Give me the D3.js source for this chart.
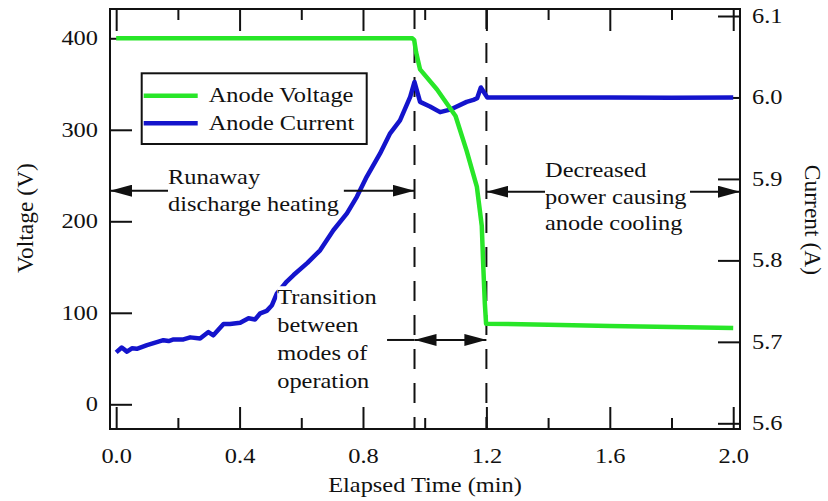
<!DOCTYPE html>
<html>
<head>
<meta charset="utf-8">
<script src="https://cdn.jsdelivr.net/npm/d3@7"></script>
<style>
  body { margin: 0; background: #fff; }
  svg text { font-family: "Liberation Serif", "Times New Roman", serif; fill: #111; }
</style>
</head>
<body>
<svg id="chart" width="828" height="501"></svg>
<script>
// Anode voltage (left axis) and anode current (right axis) vs elapsed time
var voltTime = [0, 0.96, 0.966, 0.972, 0.985, 1.04, 1.10, 1.136, 1.169, 1.185, 1.19, 1.195, 1.199, 1.4, 1.6, 1.8, 2.0];
var voltage  = [400, 400, 398, 385, 366, 344, 315, 277, 238, 195, 150, 110, 88, 87, 85.5, 84.5, 83.5];

var currTime = [0, 0.018, 0.035, 0.051, 0.067, 0.10, 0.153, 0.17, 0.186, 0.218, 0.24, 0.272, 0.299, 0.315,
                0.348, 0.369, 0.402, 0.429, 0.45, 0.467, 0.488, 0.505, 0.521, 0.553, 0.575, 0.62, 0.661,
                0.704, 0.748, 0.78, 0.812, 0.855, 0.888, 0.92, 0.953, 0.967, 0.985, 1.017, 1.05, 1.082,
                1.136, 1.158, 1.17, 1.182, 1.203, 1.4, 1.6, 1.8, 2.0];
var current  = [5.687, 5.693, 5.688, 5.692, 5.6915, 5.696, 5.702, 5.701, 5.703, 5.703, 5.7055, 5.704, 5.712, 5.708,
                5.722, 5.722, 5.7235, 5.729, 5.7275, 5.735, 5.738, 5.745, 5.7595, 5.774, 5.782, 5.797, 5.8124,
                5.837, 5.8577, 5.878, 5.9026, 5.931, 5.956, 5.972, 6.0008, 6.019, 5.9946, 5.989, 5.982, 5.985,
                5.9946, 5.997, 5.999, 6.0123, 6.0, 6.0, 6.0, 5.9995, 6.0];

var timeTicks = [0, 0.4, 0.8, 1.2, 1.6, 2.0];
var timeMinor = [0.2, 0.6, 1.0, 1.4, 1.8];
var voltTicks = [0, 100, 200, 300, 400];
var currTicks = [5.6, 5.7, 5.8, 5.9, 6.0, 6.1];

// phase boundaries (min)
var phaseEdges = [0.967, 1.2];

var svg = d3.select("#chart"),
    margin = { top: 9, right: 88, bottom: 72, left: 110 },
    width = +svg.attr("width") - margin.left - margin.right,
    height = +svg.attr("height") - margin.top - margin.bottom;

var sx = 1.22; // the original figure's lettering is a bit wide
var green = "#28e628", blue = "#1414cc";

var x = d3.scaleLinear().domain([-0.02, 2.022]).range([0, width]);
var yL = d3.scaleLinear().domain([-27, 432]).range([height, 0]);
var yR = d3.scaleLinear().domain([5.593, 6.1086]).range([height, 0]);

var g = svg.append("g")
    .attr("transform", "translate(" + margin.left + "," + margin.top + ")");

// arrow head marker
svg.append("defs").append("marker")
    .attr("id", "head")
    .attr("viewBox", "0 0 22 12")
    .attr("refX", 22).attr("refY", 6)
    .attr("markerWidth", 22).attr("markerHeight", 12)
    .attr("markerUnits", "userSpaceOnUse")
    .attr("orient", "auto-start-reverse")
    .append("path").attr("d", "M0,0L22,6L0,12Z").attr("fill", "#111");

function stretch(sel) {
    sel.each(function () {
        var t = d3.select(this);
        t.attr("x", (+t.attr("x") || 0) / sx).attr("transform", "scale(" + sx + ",1)");
    });
}

function label(px, py, str, anchor) {
    return g.append("text")
        .attr("transform", "translate(" + px + "," + py + ") scale(" + sx + ",1)")
        .attr("text-anchor", anchor || "start")
        .style("font-size", "20px")
        .text(str);
}

// Axes, ticks pointing inward
function styleAxis(ax) {
    ax.select(".domain").remove();
    ax.selectAll("line").attr("stroke", "#111").attr("stroke-width", 2);
    ax.selectAll("text").style("font-size", "20px").attr("fill", "#111");
}

var bottom = g.append("g").attr("transform", "translate(0," + height + ")")
    .call(d3.axisBottom(x).tickValues(timeTicks).tickFormat(d3.format(".1f"))
        .tickSizeInner(-22).tickSizeOuter(0).tickPadding(20));
styleAxis(bottom);
stretch(bottom.selectAll("text"));
styleAxis(g.append("g").attr("transform", "translate(0," + height + ")")
    .call(d3.axisBottom(x).tickValues(timeMinor).tickFormat("").tickSizeInner(-11).tickSizeOuter(0)));
styleAxis(g.append("g")
    .call(d3.axisTop(x).tickValues(timeTicks).tickFormat("").tickSizeInner(-22).tickSizeOuter(0)));
styleAxis(g.append("g")
    .call(d3.axisTop(x).tickValues(timeMinor).tickFormat("").tickSizeInner(-11).tickSizeOuter(0)));

var left = g.append("g")
    .call(d3.axisLeft(yL).tickValues(voltTicks).tickSizeInner(-22).tickSizeOuter(0).tickPadding(12));
styleAxis(left);
stretch(left.selectAll("text"));

var right = g.append("g").attr("transform", "translate(" + width + ",0)")
    .call(d3.axisRight(yR).tickValues(currTicks).tickFormat(d3.format(".1f"))
        .tickSizeInner(-22).tickSizeOuter(0).tickPadding(12));
styleAxis(right);
stretch(right.selectAll("text"));

// Phase boundaries
g.selectAll(".edge")
    .data(phaseEdges)
    .enter().append("line")
    .attr("class", "edge")
    .attr("x1", function (d) { return x(d); }).attr("x2", function (d) { return x(d); })
    .attr("y1", 0).attr("y2", height)
    .attr("stroke", "#111").attr("stroke-width", 2)
    .attr("stroke-dasharray", "20,14");

// Series
var voltLine = d3.line()
    .x(function (d, i) { return x(voltTime[i]); })
    .y(function (d) { return yL(d); });
var currLine = d3.line()
    .x(function (d, i) { return x(currTime[i]); })
    .y(function (d) { return yR(d); });

g.append("path").datum(current)
    .attr("d", currLine).attr("fill", "none")
    .attr("stroke", blue).attr("stroke-width", 4.5).attr("stroke-linejoin", "round");
g.append("path").datum(voltage)
    .attr("d", voltLine).attr("fill", "none")
    .attr("stroke", green).attr("stroke-width", 4.5).attr("stroke-linejoin", "round");

// Annotation arrows
function arrow(t0, t1, v, startHead, endHead) {
    var l = g.append("line")
        .attr("x1", x(t0)).attr("x2", x(t1))
        .attr("y1", yL(v)).attr("y2", yL(v))
        .attr("stroke", "#111").attr("stroke-width", 2);
    if (startHead) l.attr("marker-start", "url(#head)");
    if (endHead) l.attr("marker-end", "url(#head)");
}

arrow(-0.02, 0.168, 233.4, true, false);
arrow(0.738, phaseEdges[0], 233.4, false, true);
arrow(phaseEdges[1], 1.39, 232.3, true, false);
arrow(1.86, 2.022, 232.3, false, true);
arrow(0.878, phaseEdges[0], 70.3, false, false);
arrow(phaseEdges[0], phaseEdges[1], 70.3, true, true);

// Annotation text
label(x(0.168), yL(240.8), "Runaway");
label(x(0.168), yL(240.8) + 26.7, "discharge heating");

label(x(1.39), yL(248.4), "Decreased");
label(x(1.39), yL(248.4) + 26.5, "power causing");
label(x(1.39), yL(248.4) + 53, "anode cooling");

g.append("rect")
    .attr("x", x(0.522)).attr("y", yL(129))
    .attr("width", 96).attr("height", 112)
    .attr("fill", "#fff");
["Transition", "between", "modes of", "operation"].forEach(function (s, i) {
    label(x(0.522), yL(110) + i * 28.2, s);
});

// Legend
var legend = g.append("g").attr("transform", "translate(" + (141.7 - margin.left) + "," + (73.3 - margin.top) + ")");
legend.append("rect")
    .attr("width", 225).attr("height", 70.7)
    .attr("fill", "#fff").attr("stroke", "#111").attr("stroke-width", 2);
[["Anode Voltage", green], ["Anode Current", blue]].forEach(function (d, i) {
    var yy = 22.4 + i * 27.6;
    legend.append("line")
        .attr("x1", 2).attr("x2", 56).attr("y1", yy).attr("y2", yy)
        .attr("stroke", d[1]).attr("stroke-width", 4.5);
    legend.append("text")
        .attr("transform", "translate(67," + (yy + 6.5) + ") scale(" + sx + ",1)")
        .style("font-size", "20px")
        .text(d[0]);
});

// Frame
g.append("rect")
    .attr("width", width).attr("height", height)
    .attr("fill", "none").attr("stroke", "#111").attr("stroke-width", 2);

// Axis titles
svg.append("text")
    .attr("transform", "translate(" + (margin.left + width / 2) + ",492) scale(" + sx + ",1)")
    .attr("text-anchor", "middle").style("font-size", "20px")
    .text("Elapsed Time (min)");
svg.append("text")
    .attr("transform", "translate(33,218) rotate(-90)")
    .attr("text-anchor", "middle").style("font-size", "23.5px")
    .text("Voltage (V)");
svg.append("text")
    .attr("transform", "translate(805,220) rotate(90)")
    .attr("text-anchor", "middle").style("font-size", "23.5px")
    .text("Current (A)");
</script>
</body>
</html>
